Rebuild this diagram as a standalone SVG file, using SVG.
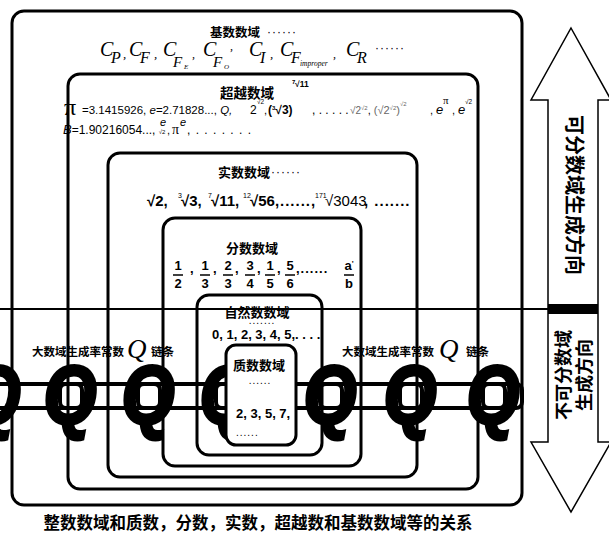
<svg xmlns="http://www.w3.org/2000/svg" width="609" height="539" viewBox="0 0 609 539">
<style>
.box{fill:none;stroke:#000;stroke-width:3}
.cn{font-family:"Noto Sans CJK SC","Noto Sans",sans-serif;font-weight:bold;fill:#000}
.s{font-family:"Liberation Sans","Noto Sans",sans-serif;fill:#000}
.b{font-weight:bold}
.ti{font-family:"Liberation Serif",serif;font-style:italic;fill:#000}
.bigq{font-family:"Liberation Sans",sans-serif;font-weight:bold;font-style:italic;font-size:84px;fill:#000;stroke:#000;stroke-width:3;text-anchor:middle}
.link{fill:none;stroke:#000;stroke-width:4}
.g{fill:#666}
</style>
<rect width="609" height="539" fill="#fff"/>

<!-- arrow -->
<g id="arrow">
<polygon points="571,28 611,100 598,100 598,442 611,442 571,512 531,442 548,442 548,100 531,100" fill="#fff" stroke="#000" stroke-width="1.5"/>
<rect x="548" y="304" width="50" height="10" fill="#000"/>
<text class="cn" font-size="20" text-anchor="middle" transform="translate(567,195) rotate(90)">可分数域生成方向</text>
<text class="cn" font-size="18" text-anchor="middle" transform="translate(570,375) rotate(-90)">不可分数域</text>
<text class="cn" font-size="18" text-anchor="middle" transform="translate(591,375) rotate(-90)">生成方向</text>
</g>

<!-- connectors: horizontal divider and chain -->
<g id="connectors">
<line x1="0" y1="309" x2="548" y2="309" stroke="#000" stroke-width="2"/>
<rect class="link" x="-20" y="384" width="102" height="24" rx="6"/>
<rect class="link" x="60" y="384" width="100" height="24" rx="6"/>
<rect class="link" x="138" y="384" width="100" height="24" rx="6"/>
<rect class="link" x="216" y="384" width="126" height="24" rx="6"/>
<rect class="link" x="320" y="384" width="102" height="24" rx="6"/>
<rect class="link" x="400" y="384" width="105" height="24" rx="6"/>
<rect class="link" x="483" y="384" width="39" height="24" rx="6"/>
</g>

<g id="qchain">
<text class="bigq" transform="translate(-6,424) scale(0.82,1)">Q</text>
<text class="bigq" transform="translate(70,424) scale(0.82,1)">Q</text>
<text class="bigq" transform="translate(148,424) scale(0.82,1)">Q</text>
<text class="bigq" transform="translate(226,424) scale(0.82,1)">Q</text>
<text class="bigq" transform="translate(330,424) scale(0.82,1)">Q</text>
<text class="bigq" transform="translate(410,424) scale(0.82,1)">Q</text>
<text class="bigq" transform="translate(493,424) scale(0.82,1)">Q</text>
</g>

<g id="label-left">
<text class="cn" x="32" y="356" font-size="11.5">大数域生成率常数</text>
<text class="ti" x="127" y="358" font-size="27">Q</text>
<text class="cn" x="151" y="356" font-size="11.5">链条</text>
</g>
<g id="label-right">
<text class="cn" x="342" y="356" font-size="11.5">大数域生成率常数</text>
<text class="ti" x="439" y="358" font-size="27">Q</text>
<text class="cn" x="466" y="356" font-size="11.5">链条</text>
</g>

<!-- base number domain -->
<g id="base-domain">
<rect class="box" x="12" y="11" width="510" height="494" rx="12"/>
<text class="cn" x="210" y="37" font-size="12.5">基数数域</text>
<text class="s" x="267" y="36" font-size="12" letter-spacing="1">······</text>
<g class="ti" font-size="20">
<text x="100" y="56">C</text><text x="111" y="63" font-size="16">P</text><text x="123" y="58" font-size="13">,</text>
<text x="129" y="56">C</text><text x="140" y="63" font-size="16">F</text><text x="154" y="58" font-size="13">,</text>
<text x="163" y="56">C</text><text x="173" y="67" font-size="15">F</text><text x="184" y="69" font-size="7">E</text><text x="192" y="58" font-size="12">,</text>
<text x="203" y="56">C</text><text x="213" y="67" font-size="15">F</text><text x="224" y="69" font-size="7">O</text><text x="230" y="50" font-size="12">,</text>
<text x="249" y="56">C</text><text x="260" y="63" font-size="16">I</text><text x="270" y="58" font-size="13">,</text>
<text x="280" y="56">C</text><text x="291" y="63" font-size="16">F</text><text x="300" y="66" font-size="7.5">improper</text><text x="333" y="58" font-size="12">,</text>
<text x="346" y="56">C</text><text x="357" y="63" font-size="16">R</text>
</g>
<text class="s" x="375" y="52" font-size="12" letter-spacing="1">······</text>
</g>

<!-- transcendental -->
<g id="transcendental-domain">
<rect class="box" x="68" y="74" width="410" height="415" rx="12"/>
<text class="cn" x="247" y="98" font-size="13.5" text-anchor="middle">超越数域</text>
<text x="64" y="115" font-family="Liberation Serif,serif" font-size="24">π</text>
<text class="s" x="82" y="114" font-size="11.5">=3.1415926, <tspan font-style="italic">e</tspan>=2.71828..., <tspan font-style="italic">Q,</tspan></text>
<text class="s" x="250" y="114" font-size="12">2</text>
<text class="s" x="257" y="104" font-size="6.5">√2</text>
<text class="s" x="264" y="114" font-size="11">,</text>
<text class="s b" x="268" y="114" font-size="12">(<tspan font-size="6" dy="-4">3</tspan><tspan dy="4">√3)</tspan></text>
<text class="s b" x="292" y="84" font-size="6">7</text>
<text class="s b" x="295" y="87" font-size="8.5">√11</text>
<text class="s" x="312" y="114" font-size="12">, . . . . .</text>
<text class="s g" x="350" y="114" font-size="10">√2<tspan font-size="6" dy="-4">√2</tspan><tspan font-size="11" fill="#000" dy="4">,</tspan><tspan dx="3" font-size="11">(√2<tspan font-size="6" dy="-4">√2</tspan><tspan dy="4">)</tspan><tspan font-size="6" dy="-8">√2</tspan></tspan></text>
<text class="s" x="430" y="114" font-size="11">,</text>
<text class="s" x="436" y="114" font-size="13" font-style="italic">e</text>
<text x="443" y="104" font-family="Liberation Serif,serif" font-size="11">π</text>
<text class="s" x="452" y="114" font-size="11">,</text>
<text class="s" x="458" y="114" font-size="13" font-style="italic">e</text>
<text class="s" x="465" y="104" font-size="6.5">√2</text>
<text class="s" x="63" y="134" font-size="12"><tspan font-style="italic" font-size="13">B</tspan>=1.90216054..., <tspan font-size="6">√2</tspan></text>
<text class="s" x="160" y="126" font-size="11" font-style="italic">e</text>
<text class="s" x="167" y="134" font-size="11">,</text>
<text x="172" y="134" font-family="Liberation Serif,serif" font-size="14">π</text>
<text class="s" x="180" y="126" font-size="11" font-style="italic">e</text>
<text class="s" x="187" y="134" font-size="12" letter-spacing="1">, . . . . . . .</text>
</g>

<!-- real -->
<g id="real-domain">
<rect class="box" x="108" y="153" width="309" height="324" rx="12"/>
<text class="cn" x="218" y="177" font-size="13">实数数域</text>
<text class="s" x="271" y="176" font-size="12" letter-spacing="1">······</text>
<g class="s b" font-size="15">
<text x="147" y="206">√2,</text>
<text x="178" y="198" font-size="7" font-weight="normal">3</text><text x="181" y="206">√3,</text>
<text x="208" y="198" font-size="7" font-weight="normal">7</text><text x="211" y="206">√11,</text>
<text x="243" y="198" font-size="7" font-weight="normal">12</text><text x="250" y="206">√56,</text>
<text x="280" y="206" letter-spacing="1">......,</text>
<text x="315" y="198" font-size="7" font-weight="normal">171</text><text x="325" y="206" font-weight="normal">√3043</text>
<text x="364" y="206" letter-spacing="1">, .......</text>
</g>
</g>

<!-- fraction -->
<g id="fraction-domain">
<rect class="box" x="163" y="218" width="198" height="248" rx="12"/>
<text class="cn" x="252" y="253" font-size="13" text-anchor="middle">分数数域</text>
<g class="s b" font-size="13" text-anchor="middle">
<text x="178" y="270">1</text><text x="178" y="288">2</text>
<text x="205" y="270">1</text><text x="205" y="288">3</text>
<text x="228" y="270">2</text><text x="228" y="288">3</text>
<text x="250" y="270">3</text><text x="250" y="288">4</text>
<text x="270" y="270">1</text><text x="270" y="288">5</text>
<text x="290" y="270">5</text><text x="290" y="288">6</text>
<text x="349" y="270">a<tspan font-size="8" dy="-4">'</tspan></text><text x="349" y="288">b</text>
</g>
<g class="s b" font-size="13">
<text x="190" y="273">,</text><text x="213" y="273">,</text><text x="235" y="273">,</text><text x="257" y="273">,</text><text x="277" y="273">,</text>
<text x="296" y="273" letter-spacing="1">,......</text>
</g>
<g stroke="#000" stroke-width="1.5">
<line x1="173" y1="275" x2="183" y2="275"/><line x1="200" y1="275" x2="210" y2="275"/>
<line x1="223" y1="275" x2="233" y2="275"/><line x1="245" y1="275" x2="255" y2="275"/>
<line x1="265" y1="275" x2="275" y2="275"/><line x1="285" y1="275" x2="295" y2="275"/>
<line x1="344" y1="275" x2="354" y2="275"/>
</g>
</g>

<!-- natural -->
<g id="natural-domain">
<rect class="box" x="197" y="295" width="125" height="160" rx="12"/>
<text class="cn" x="257" y="317" font-size="13" text-anchor="middle">自然数数域</text>
<text class="s" x="262" y="324" font-size="10" text-anchor="middle" letter-spacing="1">.......</text>
<text class="s b" x="212" y="339" font-size="13">0, 1, 2, 3, 4, 5,. . . .</text>
</g>

<!-- prime -->
<g id="prime-domain">
<rect x="226" y="345" width="70" height="100" rx="10" fill="#fff" stroke="#000" stroke-width="3"/>
<text class="cn" x="259" y="370" font-size="13" text-anchor="middle">质数数域</text>
<text class="s" x="260" y="384" font-size="10" text-anchor="middle" letter-spacing="1">......</text>
<text class="s b" x="236" y="418" font-size="13">2, 3, 5, 7,</text>
<text class="s" x="236" y="436" font-size="10" letter-spacing="1">......</text>
</g>

<g id="caption">
<text class="cn" x="258" y="529" font-size="16.5" text-anchor="middle">整数数域和质数，分数，实数，超越数和基数数域等的关系</text>
</g>
</svg>
